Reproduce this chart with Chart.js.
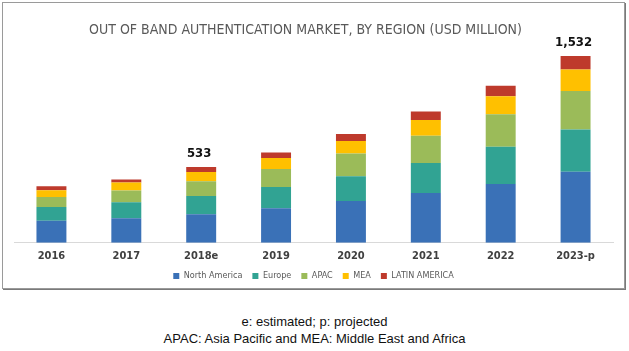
<!DOCTYPE html>
<html>
<head>
<meta charset="utf-8">
<script src="https://cdn.jsdelivr.net/npm/chart.js@4"></script>
<style>
  html, body { margin: 0; padding: 0; background: #fff; }
  body { width: 629px; height: 351px; position: relative; overflow: hidden; }
  #chart { position: absolute; left: 3px; top: 3px; }
  #box {
    position: absolute; left: 2px; top: 2px; width: 621px; height: 285px;
    border: 1px solid #9a9a9a; box-shadow: 1px 1px 0 #7a7a7a; pointer-events: none;
  }
  .note {
    position: absolute; left: 0; width: 629px; text-align: center; line-height: 15px;
    font-family: "Liberation Sans", Arial, sans-serif; font-size: 13px; color: #111;
  }
</style>
</head>
<body>
<canvas id="chart" width="621" height="300"></canvas>
<div id="box"></div>
<div class="note" style="top:314px">e: estimated; p: projected</div>
<div class="note" style="top:331px">APAC: Asia Pacific and MEA: Middle East and Africa</div>
<script>
// values (USD million)
const years = ['2016', '2017', '2018e', '2019', '2020', '2021', '2022', '2023-p'];
const northAmerica = [180, 201, 234, 284, 342, 408, 483, 582];
const europe = [113, 132, 149, 174, 205, 246, 306, 348];
const apac = [83, 97, 122, 147, 185, 224, 265, 315];
const mea = [55, 64, 75, 91, 103, 130, 149, 177];
const latinAmerica = [33, 25, 41, 44, 58, 69, 86, 110];
// totals printed on the chart
const totalLabels = ['', '', '533', '', '', '', '', '1,532'];

const narrow = '"Liberation Sans Narrow", "DejaVu Sans Condensed", Arial, sans-serif';

const totalsPlugin = {
  id: 'totals',
  afterDatasetsDraw(chart) {
    const { ctx } = chart;
    const lastMeta = chart.getDatasetMeta(chart.data.datasets.length - 1);
    ctx.save();
    ctx.font = 'bold 13px ' + narrow;
    ctx.fillStyle = '#111';
    ctx.textAlign = 'center';
    ctx.textBaseline = 'middle';
    lastMeta.data.forEach((bar, i) => {
      if (totalLabels[i]) ctx.fillText(totalLabels[i], bar.x - 2, bar.y - 13.5);
    });
    ctx.restore();
  }
};

new Chart(document.getElementById('chart'), {
  type: 'bar',
  data: {
    labels: years,
    datasets: [
      { label: 'North America', data: northAmerica, backgroundColor: '#3a71b7' },
      { label: 'Europe', data: europe, backgroundColor: '#31a393' },
      { label: 'APAC', data: apac, backgroundColor: '#9bbb59' },
      { label: 'MEA', data: mea, backgroundColor: '#ffc000' },
      { label: 'LATIN AMERICA', data: latinAmerica, backgroundColor: '#be3a2c' }
    ]
  },
  options: {
    responsive: false,
    animation: false,
    layout: { padding: { left: 11, right: 11, top: 0, bottom: 12.6 } },
    datasets: { bar: { categoryPercentage: 1, barPercentage: 0.4 } },
    plugins: {
      title: {
        display: true,
        // trailing spaces nudge the centred title left like the original
        text: 'OUT OF BAND AUTHENTICATION MARKET, BY REGION (USD MILLION)    ',
        color: '#595959',
        font: { family: narrow, size: 14, weight: 'normal', lineHeight: 1.2 },
        padding: { top: 18.6, bottom: 10 }
      },
      legend: {
        position: 'bottom',
        labels: {
          boxWidth: 6, boxHeight: 6, padding: 10,
          color: '#595959',
          font: { family: narrow, size: 9, lineHeight: 1.2 }
        }
      },
      tooltip: { enabled: false }
    },
    scales: {
      x: {
        stacked: true,
        grid: { display: false, drawTicks: false },
        border: { color: '#d9d9d9' },
        ticks: { color: '#404040', font: { family: narrow, size: 11, weight: 'bold' }, padding: 7 },
        afterFit(scale) { scale.height = 18.6; }
      },
      y: {
        stacked: true,
        display: false,
        min: 0,
        max: 1595
      }
    }
  },
  plugins: [totalsPlugin]
});
</script>
</body>
</html>
